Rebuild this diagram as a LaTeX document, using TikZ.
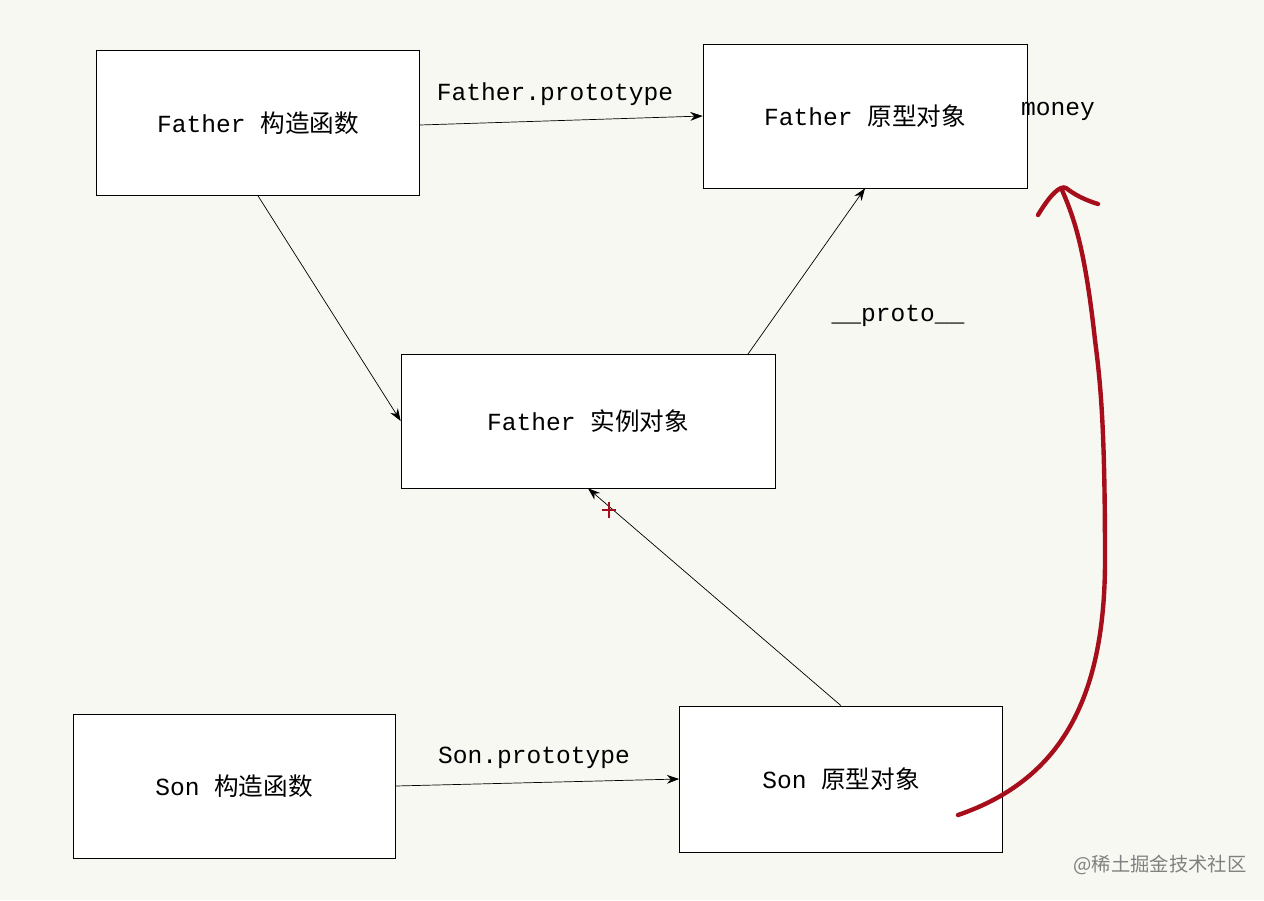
\documentclass[tikz,border=0pt]{standalone}
\usepackage{fontspec}
\setmonofont{Liberation Mono}
\newfontfamily\cjk{Noto Sans CJK SC}
\usetikzlibrary{arrows.meta}
\definecolor{bgpaper}{HTML}{F8F8F3}
\definecolor{penred}{HTML}{A50E1A}
\begin{document}
\begin{tikzpicture}[x=0.02cm,y=-0.02cm,thin]
  \tikzstyle{box} = [draw, fill=white, inner sep=0pt, font=\fontsize{14}{16}\selectfont\ttfamily];
  \tikzstyle{lbl} = [font=\fontsize{14}{16}\selectfont\ttfamily];
  \tikzstyle{link} = [-{Stealth[length=7pt,width=5pt]}];
  \fill[bgpaper] (0,0) rectangle (1264,900);
  \useasboundingbox (0,0) rectangle (1264,900);
  % boxes
  \node[box, minimum width=6.46cm, minimum height=2.9cm] (fc) at (258,123) {Father {\cjk 构造函数}};
  \node[box, minimum width=6.48cm, minimum height=2.88cm] (fp) at (865,116) {Father {\cjk 原型对象}};
  \node[box, minimum width=7.48cm, minimum height=2.68cm] (fi) at (588,421) {Father {\cjk 实例对象}};
  \node[box, minimum width=6.44cm, minimum height=2.88cm] (sc) at (234,786) {Son {\cjk 构造函数}};
  \node[box, minimum width=6.46cm, minimum height=2.92cm] (sp) at (841,779) {Son {\cjk 原型对象}};
  % labels
  \node[lbl] (fpl) at (555,94) {Father.prototype};
  \node[lbl] (spl) at (534,758) {Son.prototype};
  \node[lbl] (pro) at (898,316) {\_\_proto\_\_};
  \node[lbl] (mon) at (1058,111) {money};
  \node[font=\fontsize{11}{13}\selectfont\cjk, text=gray] (mark) at (1160,865) {@稀土掘金技术社区};
  % connectors
  \draw[link] (fc.east) ++(0,2) -- (fp.west);
  \draw[link] (fc.south) -- (fi.west);
  \draw[link] (748,354) -- (fp.south);
  \draw[link] (sp.north) -- (fi.south);
  \draw[link] (sc.east) -- (sp.west);
  % red marks
  \draw[penred, line width=1.5pt] (602,510) -- (616,510) (609,502) -- (609,518);
  \draw[penred, line width=2.5pt, line cap=round]
    (958,815) .. controls (1060,780) and (1105,700) .. (1105,560)
    .. controls (1105,420) and (1100,380) .. (1095,340)
    .. controls (1085,250) and (1075,220) .. (1062,190);
  \draw[penred, line width=2.5pt, line cap=round]
    (1038,215) .. controls (1050,195) and (1060,185) .. (1066,188)
    .. controls (1075,195) and (1085,200) .. (1098,204);
\end{tikzpicture}
\end{document}
